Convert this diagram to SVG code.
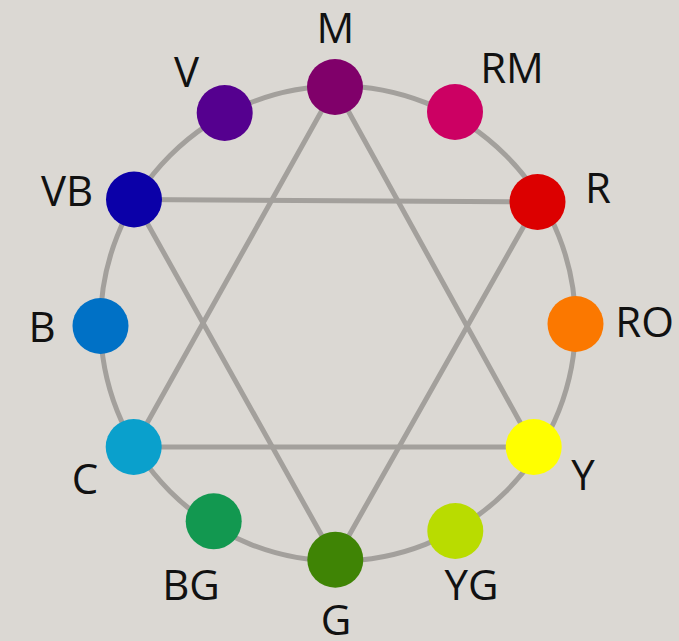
<svg xmlns="http://www.w3.org/2000/svg" width="679" height="641" viewBox="0 0 679 641">
<style>
.ln{stroke:#a3a09c;stroke-width:5;fill:none;stroke-linecap:round}
.lb{font-family:"Open Sans","Liberation Sans",sans-serif;font-size:42px;fill:#111;text-anchor:middle}
</style>
<rect width="679" height="641" fill="#dbd8d3"/>
<g id="connectors">
<circle class="ln" cx="338" cy="323.5" r="237.5"/>
<line class="ln" x1="335" y1="87" x2="133.7" y2="447"/>
<line class="ln" x1="335" y1="87" x2="533.7" y2="447"/>
<line class="ln" x1="133.7" y1="447" x2="533.7" y2="447"/>
<line class="ln" x1="134" y1="199.5" x2="537.5" y2="202"/>
<line class="ln" x1="134" y1="199.5" x2="335.3" y2="559.7"/>
<line class="ln" x1="537.5" y1="202" x2="335.3" y2="559.7"/>
</g>
<g id="M"><circle cx="335" cy="87" r="28" fill="#80006a"/><text class="lb" x="335.5" y="43">M</text></g>
<g id="RM"><circle cx="455" cy="112" r="28" fill="#cc0063"/><text class="lb" x="512" y="83">RM</text></g>
<g id="R"><circle cx="537.5" cy="202" r="28" fill="#dc0000"/><text class="lb" x="598" y="203">R</text></g>
<g id="RO"><circle cx="575.5" cy="324" r="28" fill="#fb7800"/><text class="lb" x="644.5" y="336.7">RO</text></g>
<g id="Y"><circle cx="533.7" cy="447" r="28" fill="#ffff00"/><text class="lb" x="583" y="490">Y</text></g>
<g id="YG"><circle cx="455.3" cy="531" r="28" fill="#b9dc00"/><text class="lb" x="471.5" y="600">YG</text></g>
<g id="G"><circle cx="335.3" cy="559.7" r="28" fill="#3f8405"/><text class="lb" x="336" y="635">G</text></g>
<g id="BG"><circle cx="213.7" cy="521.3" r="28" fill="#129850"/><text class="lb" x="191" y="600">BG</text></g>
<g id="C"><circle cx="133.7" cy="447" r="28" fill="#0aa0cc"/><text class="lb" x="85" y="494">C</text></g>
<g id="B"><circle cx="100.5" cy="326" r="28" fill="#0071c6"/><text class="lb" x="42" y="341.7">B</text></g>
<g id="VB"><circle cx="134" cy="199.5" r="28" fill="#0b00a8"/><text class="lb" x="67" y="206">VB</text></g>
<g id="V"><circle cx="224.7" cy="113" r="28" fill="#55008f"/><text class="lb" x="186.5" y="87">V</text></g>
</svg>
